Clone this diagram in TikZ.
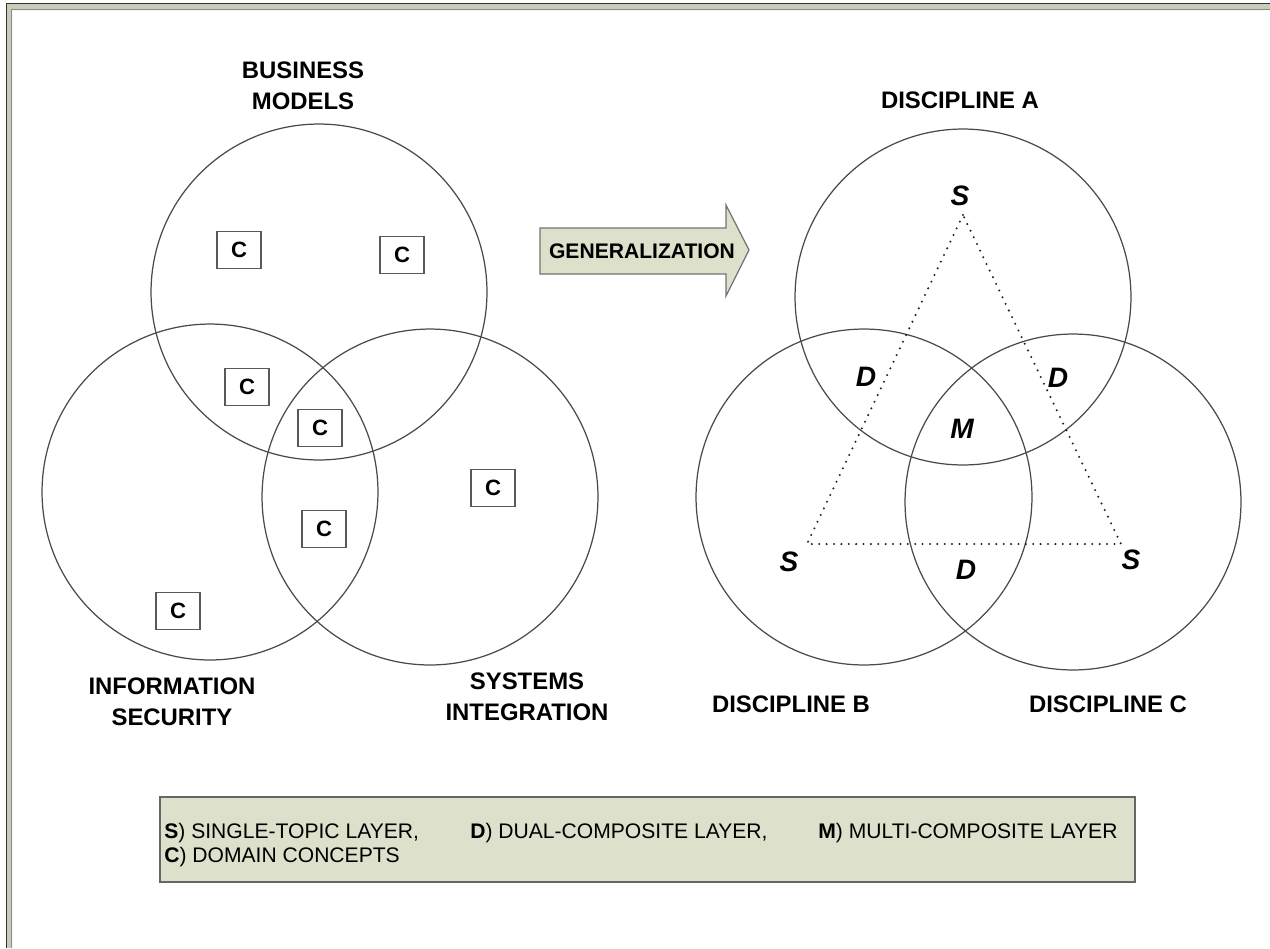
\documentclass[tikz,border=0pt]{standalone}
\usepackage{fontspec}
\setmainfont{Liberation Sans}
\usepackage{tikz}
\usetikzlibrary{positioning}
\definecolor{panelgreen}{HTML}{DDE0CB}
\definecolor{framegreen}{HTML}{C9CCB8}
\definecolor{linegray}{HTML}{4A4A4A}
\tikzset{
    venn/.style = {circle, draw=linegray, line width=0.7pt, minimum size=6.72cm, inner sep=0pt},
    cbox/.style = {rectangle, draw=black!65, line width=0.7pt, minimum width=0.88cm, minimum height=0.74cm, inner sep=0pt, font=\bfseries\fontsize{12.6}{12.6}\selectfont},
    venntitle/.style = {align=center, inner sep=0pt, font=\bfseries\fontsize{13.6}{17.6}\selectfont},
    layerltr/.style = {inner sep=0pt, font=\bfseries\itshape\fontsize{16}{16}\selectfont},
    legtxt/.style = {anchor=base west, inner sep=0pt, font=\fontsize{12}{14}\selectfont},
    tri/.style = {line width=1.3pt, line cap=round, dash pattern=on 0pt off 4.2pt, black!85}
}
\begin{document}
\begin{tikzpicture}[x=0.02cm, y=-0.02cm]
\useasboundingbox (0,0) rectangle (1270,948);
% frame
\fill[framegreen] (6,948) -- (6,3) -- (1270,3) -- (1270,10) -- (12,10) -- (12,948) -- cycle;
\draw[black!80, line width=0.8pt] (6.5,948) -- (6.5,3.5) -- (1270,3.5);
\draw[black!45, line width=0.8pt] (11.5,948) -- (11.5,9.5) -- (1270,9.5);
%
% left venn
\node[venn] (bm) at (319,292) {};
\node[venn] (is) at (210,492) {};
\node[venn] (si) at (430,497) {};
\node[venntitle] (bmt) at (303,86) {BUSINESS\\MODELS};
\node[venntitle] (ist) at (172,702) {INFORMATION\\SECURITY};
\node[venntitle] (sit) at (527,697) {SYSTEMS\\INTEGRATION};
%
\node[cbox] (c1) at (239,250) {C};
\node[cbox] (c2) at (402,255) {C};
\node[cbox] (c3) at (247,387) {C};
\node[cbox] (c4) at (320,428) {C};
\node[cbox] (c5) at (493,488) {C};
\node[cbox] (c6) at (324,529) {C};
\node[cbox] (c7) at (178,611) {C};
%
% arrow
\draw[fill=panelgreen, draw=black!55, line width=0.7pt]
    (540,228) -- (726,228) -- (726,205) -- (749,250) -- (726,296) -- (726,274) -- (540,274) -- cycle;
\node[font=\bfseries\fontsize{12}{12}\selectfont] (gen) at (642,251) {GENERALIZATION};
%
% right venn
\node[venn] (da) at (963,297) {};
\node[venn] (db) at (864,497) {};
\node[venn] (dc) at (1073,502) {};
\node[venntitle] (dat) at (960,100) {DISCIPLINE A};
\node[venntitle] (dbt) at (791,704) {DISCIPLINE B};
\node[venntitle] (dct) at (1108,704) {DISCIPLINE C};
%
\coordinate (ta) at (963,215);
\coordinate (tb) at (807,544);
\coordinate (tc) at (1121,544);
\draw[tri] (ta) -- (tb) -- (tc) -- cycle;
%
\node[layerltr] (sa) at (960,196) {S};
\node[layerltr] (sb) at (789,562) {S};
\node[layerltr] (sc) at (1131,560) {S};
\node[layerltr] (dab) at (866,377) {D};
\node[layerltr] (dac) at (1058,378) {D};
\node[layerltr] (mm) at (962,429) {M};
\node[layerltr] (dbc) at (966,570) {D};
%
% legend
\node[draw=black!60, fill=panelgreen, line width=0.8pt, minimum width=19.5cm, minimum height=1.7cm] (legend) at (647.5,839.5) {};
\node[legtxt] (ls) at (164,838) {\textbf{S}) SINGLE-TOPIC LAYER,};
\node[legtxt] (ld) at (470,838) {\textbf{D}) DUAL-COMPOSITE LAYER,};
\node[legtxt] (lm) at (818,838) {\textbf{M}) MULTI-COMPOSITE LAYER};
\node[legtxt] (lc) at (164,862) {\textbf{C}) DOMAIN CONCEPTS};
\end{tikzpicture}
\end{document}
